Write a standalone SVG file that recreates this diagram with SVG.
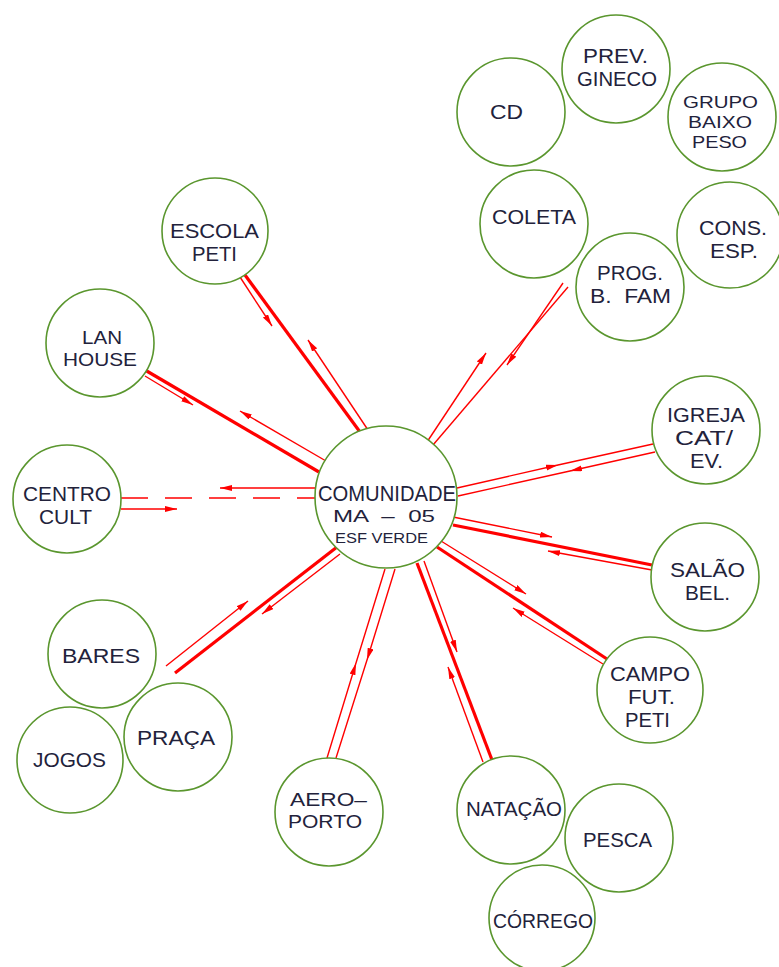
<svg xmlns="http://www.w3.org/2000/svg" width="779" height="967" viewBox="0 0 779 967">
<style>
.n circle{fill:#fff;stroke:#5a962e;stroke-width:1.6}
.n text{font-family:"Liberation Sans",Arial,sans-serif;font-size:21px;fill:#22223b;text-anchor:middle}
.n text.s{font-size:18px}
.n text.g{font-size:16.5px}
.c path{fill:none;stroke:#f00;stroke-linecap:butt}
.thick{stroke-width:3.2}
.thin{stroke-width:1.4}
.dash{stroke-width:1.6;stroke-dasharray:27,17}
.a{marker-end:url(#ah)}
.m{marker-mid:url(#ah)}
</style>
<defs>
<marker id="ah" markerUnits="userSpaceOnUse" markerWidth="14" markerHeight="8" refX="12" refY="3" orient="auto"><path d="M0,0 L12,3 L0,6 z" fill="#f00"/></marker>
</defs>
<rect width="779" height="967" fill="#fff"/>
<g id="connectors" class="c">
<path class="thick" d="M245,275 L360,432"/>
<path class="thin a" d="M240,277 L272,326"/>
<path class="thin a" d="M368,430 L308,340"/>
<path class="thick" d="M145,370 L319,472"/>
<path class="thin a" d="M145,376 L193,405"/>
<path class="thin a" d="M326,461 L240,411"/>
<path class="dash" d="M121,498 L316,498"/>
<path class="thin a" d="M316,488 L220,488"/>
<path class="thin a" d="M121,509 L177,509"/>
<path class="thin" d="M568,287 L433,445"/>
<path class="thin a" d="M563,283 L507,365"/>
<path class="thin a" d="M427,442 L486,353"/>
<path class="thin m" d="M457,488 L558,465 L653,444"/>
<path class="thin m" d="M655,452 L570,471 L458,496"/>
<path class="thick" d="M453,525 L652,565"/>
<path class="thin a" d="M453,517 L552,537"/>
<path class="thin a" d="M652,570 L548,551"/>
<path class="thick" d="M437,547 L607,659"/>
<path class="thin a" d="M441,541 L526,594"/>
<path class="thin a" d="M603,664 L513,608"/>
<path class="thick" d="M417,563 L492,760"/>
<path class="thin a" d="M424,561 L457,652"/>
<path class="thin a" d="M483,762 L448,667"/>
<path class="thin m" d="M395,569 L367,660 L336,758"/>
<path class="thin m" d="M327,758 L356,663 L385,569"/>
<path class="thick" d="M175,673 L337,547"/>
<path class="thin a" d="M166,666 L248,601"/>
<path class="thin a" d="M340,554 L262,614"/>
</g>
<g id="comunidade" class="n"><circle cx="386" cy="497" r="71"/>
<text x="387" y="501" style="font-size:22px" textLength="138" lengthAdjust="spacingAndGlyphs">COMUNIDADE</text>
<text x="384" y="522" style="font-size:17px" textLength="102" lengthAdjust="spacingAndGlyphs" xml:space="preserve">MA  –  05</text>
<text x="381.5" y="543" style="font-size:15px" textLength="93" lengthAdjust="spacingAndGlyphs">ESF VERDE</text></g>
<g id="escola" class="n"><circle cx="215" cy="231" r="53"/>
<text x="214.5" y="238" textLength="89" lengthAdjust="spacingAndGlyphs">ESCOLA</text>
<text x="214.5" y="261" textLength="45" lengthAdjust="spacingAndGlyphs">PETI</text></g>
<g id="lanhouse" class="n"><circle cx="100" cy="343" r="54"/>
<text class="s" x="102" y="344" textLength="40" lengthAdjust="spacingAndGlyphs">LAN</text>
<text class="s" x="100" y="366" textLength="74" lengthAdjust="spacingAndGlyphs">HOUSE</text></g>
<g id="centrocult" class="n"><circle cx="67" cy="499" r="54"/>
<text x="67" y="501" textLength="88" lengthAdjust="spacingAndGlyphs">CENTRO</text>
<text x="65.5" y="524" textLength="53" lengthAdjust="spacingAndGlyphs">CULT</text></g>
<g id="bares" class="n"><circle cx="102" cy="654" r="54"/>
<text x="101" y="663" textLength="78" lengthAdjust="spacingAndGlyphs">BARES</text></g>
<g id="jogos" class="n"><circle cx="70" cy="760" r="53"/>
<text x="69.5" y="767" textLength="73" lengthAdjust="spacingAndGlyphs">JOGOS</text></g>
<g id="praca" class="n"><circle cx="178" cy="737" r="54"/>
<text x="176" y="745" textLength="78" lengthAdjust="spacingAndGlyphs">PRAÇA</text></g>
<g id="aeroporto" class="n"><circle cx="329" cy="812" r="54"/>
<text class="s" x="328.5" y="806" textLength="77" lengthAdjust="spacingAndGlyphs">AERO–</text>
<text class="s" x="325" y="828" textLength="74" lengthAdjust="spacingAndGlyphs">PORTO</text></g>
<g id="natacao" class="n"><circle cx="511" cy="810" r="54"/>
<text x="514" y="816" textLength="96" lengthAdjust="spacingAndGlyphs">NATAÇÃO</text></g>
<g id="pesca" class="n"><circle cx="619" cy="838" r="54"/>
<text x="617.5" y="847" textLength="69" lengthAdjust="spacingAndGlyphs">PESCA</text></g>
<g id="corrego" class="n"><circle cx="542" cy="918" r="53"/>
<text x="543" y="928" textLength="100" lengthAdjust="spacingAndGlyphs">CÓRREGO</text></g>
<g id="igreja" class="n"><circle cx="706" cy="430" r="54"/>
<text x="706" y="422" textLength="78" lengthAdjust="spacingAndGlyphs">IGREJA</text>
<text x="704" y="445" textLength="58" lengthAdjust="spacingAndGlyphs">CAT/</text>
<text x="706.5" y="468" textLength="33" lengthAdjust="spacingAndGlyphs">EV.</text></g>
<g id="salao" class="n"><circle cx="705" cy="577" r="54"/>
<text x="707.5" y="577" textLength="75" lengthAdjust="spacingAndGlyphs">SALÃO</text>
<text x="707.5" y="600" textLength="45" lengthAdjust="spacingAndGlyphs">BEL.</text></g>
<g id="campo" class="n"><circle cx="650" cy="690" r="53"/>
<text x="650" y="681" textLength="80" lengthAdjust="spacingAndGlyphs">CAMPO</text>
<text x="651.5" y="704" textLength="47" lengthAdjust="spacingAndGlyphs">FUT.</text>
<text x="647.5" y="727" textLength="45" lengthAdjust="spacingAndGlyphs">PETI</text></g>
<g id="prev" class="n"><circle cx="616" cy="69" r="54"/>
<text x="615.5" y="63" textLength="65" lengthAdjust="spacingAndGlyphs">PREV.</text>
<text x="617" y="86" textLength="80" lengthAdjust="spacingAndGlyphs">GINECO</text></g>
<g id="cd" class="n"><circle cx="511" cy="112" r="54"/>
<text x="506.5" y="119" textLength="33" lengthAdjust="spacingAndGlyphs">CD</text></g>
<g id="grupo" class="n"><circle cx="722" cy="117" r="54"/>
<text class="g" x="720.5" y="108" textLength="75" lengthAdjust="spacingAndGlyphs">GRUPO</text>
<text class="g" x="720" y="128" textLength="64" lengthAdjust="spacingAndGlyphs">BAIXO</text>
<text class="g" x="719.5" y="148" textLength="55" lengthAdjust="spacingAndGlyphs">PESO</text></g>
<g id="coleta" class="n"><circle cx="534" cy="224" r="54"/>
<text x="534" y="224" textLength="84" lengthAdjust="spacingAndGlyphs">COLETA</text></g>
<g id="cons" class="n"><circle cx="730" cy="235" r="53"/>
<text x="733" y="235" textLength="68" lengthAdjust="spacingAndGlyphs">CONS.</text>
<text x="734" y="258" textLength="48" lengthAdjust="spacingAndGlyphs">ESP.</text></g>
<g id="prog" class="n"><circle cx="630" cy="287" r="54"/>
<text x="630" y="280" textLength="66" lengthAdjust="spacingAndGlyphs">PROG.</text>
<text x="630.5" y="303" textLength="81" lengthAdjust="spacingAndGlyphs" xml:space="preserve">B.  FAM</text></g>
</svg>
